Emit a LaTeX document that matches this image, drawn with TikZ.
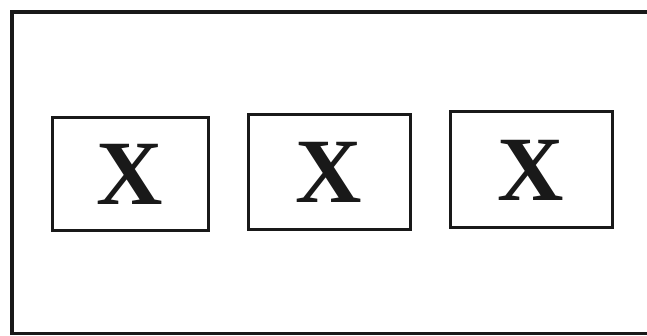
\documentclass[tikz,border=0pt]{standalone}
\usepackage{fontspec}
\setmainfont{Liberation Serif}
\begin{document}
\begin{tikzpicture}[x=1pt,y=1pt,
  framebox/.style={draw=black!90,line width=3pt,minimum width=157pt,minimum height=112pt,inner sep=0pt,
    font=\fontsize{92}{92}\selectfont\bfseries,text=black!90}]
\useasboundingbox (0,0) rectangle (647,336);
\draw[black!90,line width=3.5pt] (660,324) -- (12,324) -- (12,2.5) -- (660,2.5);
\node[framebox,minimum width=156pt,minimum height=113pt] (b1) at (130,161.5) {X};
\node[framebox,minimum width=162pt,minimum height=115pt] (b2) at (329,163.5) {X};
\node[framebox,minimum width=162pt,minimum height=116pt] (b3) at (531,166) {X};
\end{tikzpicture}
\end{document}
